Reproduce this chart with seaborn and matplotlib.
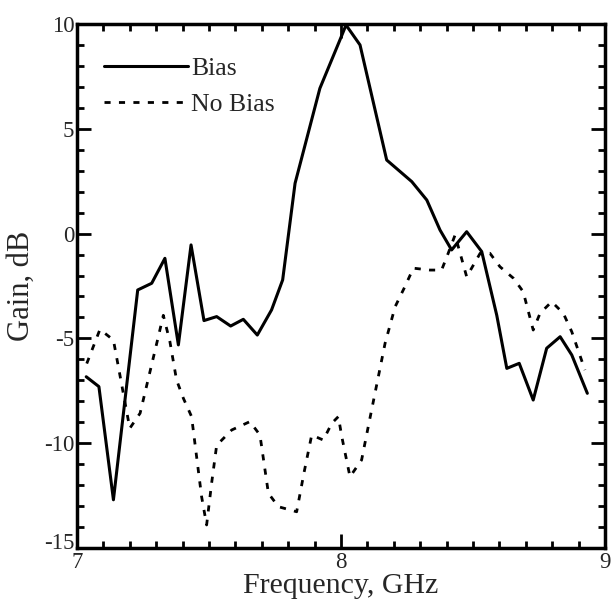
import pandas as pd
import matplotlib
matplotlib.use('Agg')
import matplotlib.pyplot as plt
import matplotlib.transforms as mtransforms
from matplotlib.ticker import MultipleLocator
import seaborn as sns

# gain vs frequency
bias_freq = [7.035, 7.083, 7.138, 7.23, 7.283, 7.333, 7.384, 7.432, 7.481, 7.529,
             7.582, 7.63, 7.683, 7.737, 7.779, 7.826, 7.92, 7.996, 8.019, 8.072,
             8.173, 8.268, 8.325, 8.375, 8.419, 8.476, 8.533, 8.59, 8.628, 8.675,
             8.728, 8.779, 8.83, 8.874, 8.933]
bias_gain = [-6.83, -7.3, -12.7, -2.69, -2.37, -1.18, -5.31, -0.54, -4.15, -3.96,
             -4.41, -4.09, -4.84, -3.64, -2.21, 2.4, 6.93, 9.24, 9.95, 9.0,
             3.51, 2.48, 1.6, 0.17, -0.78, 0.09, -0.86, -3.9, -6.43, -6.19,
             -7.94, -5.47, -4.92, -5.79, -7.62]

nobias_freq = [7.037, 7.087, 7.138, 7.2, 7.239, 7.308, 7.327, 7.352, 7.377, 7.403,
               7.434, 7.472, 7.491, 7.51, 7.529, 7.586, 7.655, 7.693, 7.725, 7.763,
               7.832, 7.86, 7.889, 7.933, 7.965, 7.99, 8.003, 8.034, 8.078, 8.107,
               8.167, 8.205, 8.242, 8.274, 8.337, 8.381, 8.406, 8.432, 8.476, 8.527,
               8.564, 8.602, 8.653, 8.69, 8.728, 8.754, 8.798, 8.842, 8.874, 8.924]
nobias_gain = [-6.2, -4.57, -5.08, -9.29, -8.57, -4.92, -3.9, -5.16, -6.98, -7.86,
               -8.73, -12.55, -13.9, -11.9, -10.1, -9.37, -8.97, -9.61, -12.39, -13.03,
               -13.27, -11.4, -9.61, -9.85, -9.05, -8.73, -9.69, -11.6, -10.8, -8.97,
               -5.23, -3.49, -2.53, -1.65, -1.74, -1.74, -0.94, -0.07, -2.06, -0.94,
               -0.94, -1.58, -2.13, -2.77, -4.6, -3.8, -3.25, -3.8, -4.68, -6.51]

sns.set_style('ticks')
plt.rcParams['font.family'] = ['Liberation Serif', 'DejaVu Serif']
plt.rcParams['axes.unicode_minus'] = False

fig = plt.figure(figsize=(6.12, 6.04), dpi=100)
ax = fig.add_axes([0.1258, 0.0927, 0.8628, 0.8676])

bias = pd.DataFrame({'freq': bias_freq, 'gain': bias_gain})
nobias = pd.DataFrame({'freq': nobias_freq, 'gain': nobias_gain})

sns.lineplot(data=bias, x='freq', y='gain', ax=ax, color='black', lw=2.2,
             estimator=None, sort=False, label='Bias')
sns.lineplot(data=nobias, x='freq', y='gain', ax=ax, color='black', lw=2.0,
             ls=(0, (2.2, 3.0)), estimator=None, sort=False, label='No Bias')

ax.set_xlim(7, 9)
ax.set_ylim(-15, 10)
ax.xaxis.set_major_locator(MultipleLocator(1))
ax.xaxis.set_minor_locator(MultipleLocator(0.1))
ax.yaxis.set_major_locator(MultipleLocator(5))
ax.yaxis.set_minor_locator(MultipleLocator(1))
ax.tick_params(which='both', direction='in', top=True, right=True,
               width=2, color='black', labelsize=16.5)
ax.tick_params(axis='y', pad=2)
ax.tick_params(axis='x', pad=3)
ax.tick_params(which='major', length=10)
ax.tick_params(which='minor', length=5)
for s in ax.spines.values():
    s.set_linewidth(2.5)
    s.set_color('black')

ax.set_xlabel('Frequency, GHz', fontsize=21.5, labelpad=0)
ax.set_ylabel('Gain, dB', fontsize=22, labelpad=6)

ax.legend(loc='upper left', bbox_to_anchor=(0.026, 0.962), frameon=False,
          fontsize=18.5, handlelength=3.3, handletextpad=0.1,
          labelspacing=0.5, borderaxespad=0.0, borderpad=0.5)

# corner labels "-15" and "7" sit tight together, nudge "-15" up a touch
fig.canvas.draw()
for lab in ax.get_yticklabels():
    if lab.get_text() == '-15':
        lab.set_transform(lab.get_transform() +
                          mtransforms.ScaledTranslation(0, 5 / 72, fig.dpi_scale_trans))

fig.savefig('out.png', dpi=100)
plt.close()
